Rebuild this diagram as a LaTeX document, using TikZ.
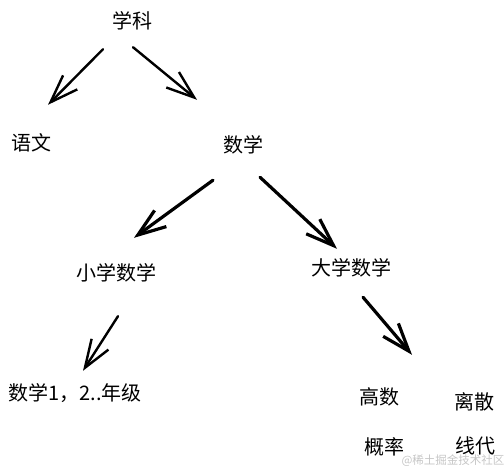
\documentclass[tikz,border=0pt]{standalone}
\usepackage{fontspec}
\setmainfont{Noto Sans CJK SC}
\usetikzlibrary{arrows.meta, calc}

\begin{document}
\begin{tikzpicture}[x=1pt, y=-1pt,
    word/.style={inner sep=0pt, minimum height=20pt, font=\fontsize{20}{20}\selectfont},
    pen/.style={-{Straight Barb[length=28pt, width=20pt]}, line width=2.4pt, line cap=round, line join=round},
    bold pen/.style={pen, line width=3.2pt}
]
\useasboundingbox (0,0) rectangle (504,471);
% tree of subjects
\node[word] (xueke)   at (132,21)  {学科};
\node[word] (yuwen)   at (32,143)  {语文};
\node[word] (shuxue)  at (243,145) {数学};
\node[word] (xiaoxue) at (116,273) {小学数学};
\node[word] (daxue)   at (351,268) {大学数学};
\node[word] (grade)   at (75,393)  {数学1，2..年级};
\node[word] (gaoshu)  at (379,397) {高数};
\node[word] (lisan)   at (474,402) {离散};
\node[word] (gailv)   at (384,447) {概率};
\node[word] (xiandai) at (475,446) {线代};
\node[inner sep=0pt, font=\fontsize{11.5}{12}\selectfont, gray!45] (mark) at (453,461) {@稀土掘金技术社区};

\draw[pen] ($(xueke.south)+(-29,18)$) -- ($(yuwen.north)+(16,-28)$);
\draw[pen] ($(xueke.south)+(1,16)$) -- ($(shuxue.north)+(-46,-35)$);
\draw[bold pen] ($(shuxue.south)+(-30,25)$) -- ($(xiaoxue.north)+(18,-25)$);
\draw[bold pen] ($(shuxue.south)+(17,22)$) -- ($(daxue.north)+(-14,-9)$);
\draw[pen] ($(xiaoxue.south)+(2,33)$) -- ($(grade.north)+(8,-12)$);
\draw[bold pen] ($(daxue.south)+(12,19)$) -- ($(gaoshu.north)+(33,-32)$);
\end{tikzpicture}
\end{document}
